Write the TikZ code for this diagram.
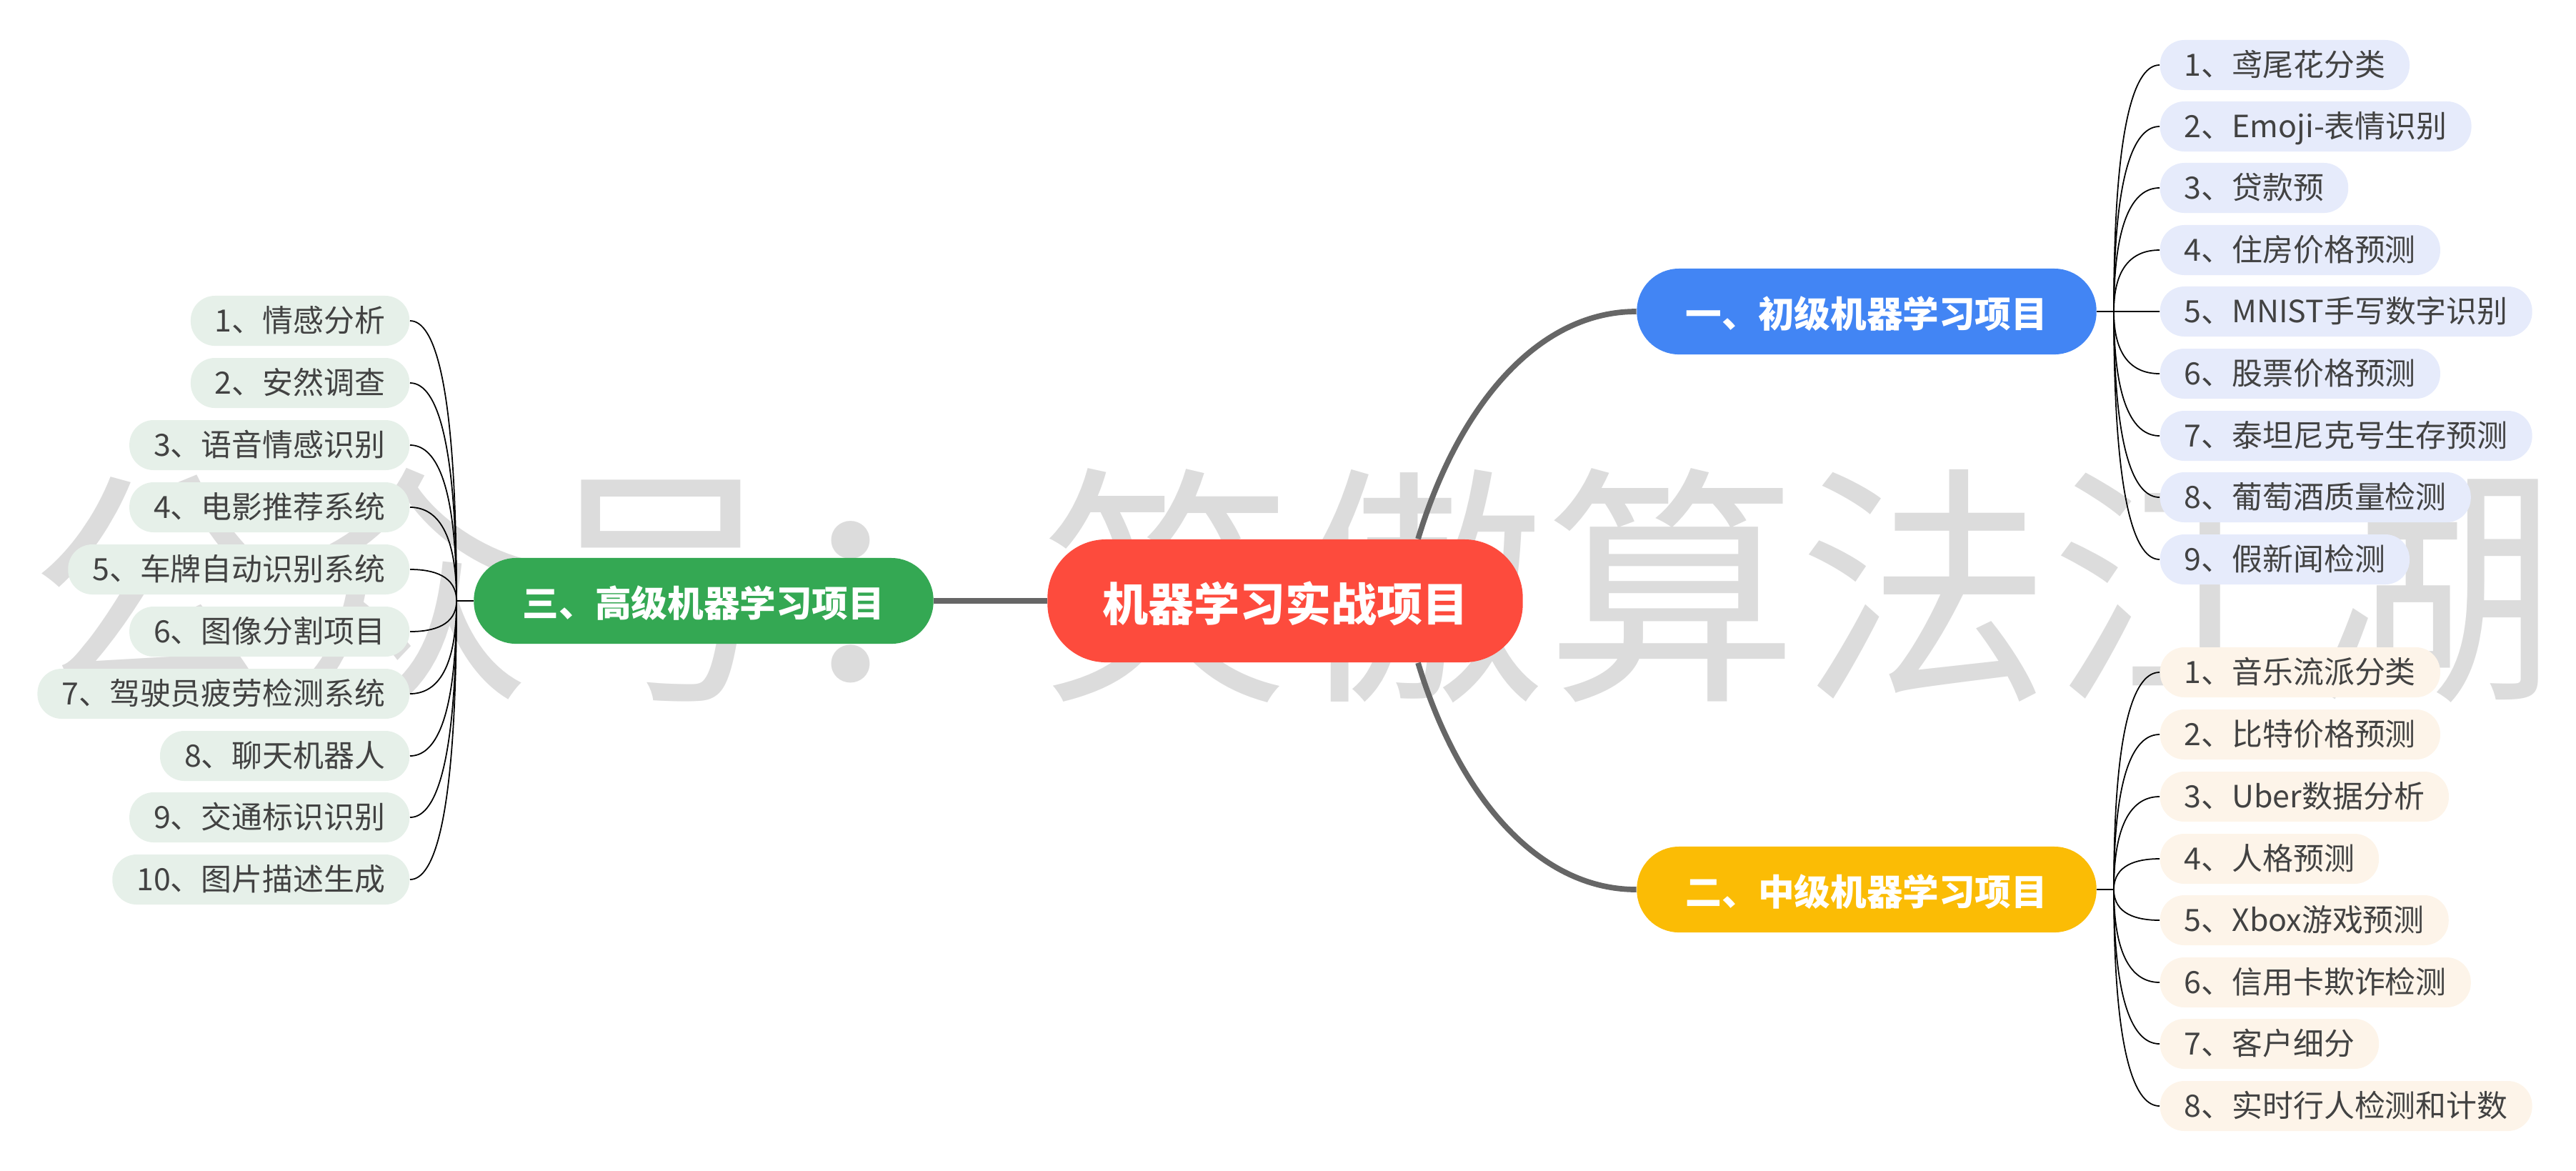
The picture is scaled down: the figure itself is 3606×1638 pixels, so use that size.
\documentclass[tikz,border=0pt]{standalone}
\usepackage{fontspec}
\setmainfont{Noto Sans CJK SC}
\usetikzlibrary{calc}
\definecolor{rootred}{HTML}{FD4B3D}
\definecolor{easyblue}{HTML}{4285F4}
\definecolor{midyellow}{HTML}{FBBC05}
\definecolor{hardgreen}{HTML}{34A853}
\definecolor{easyleaf}{HTML}{E6EBFB}
\definecolor{midleaf}{HTML}{FDF4E9}
\definecolor{hardleaf}{HTML}{E6F0E9}
\definecolor{leaftext}{HTML}{424242}
\definecolor{trunk}{HTML}{666666}
\definecolor{mark}{HTML}{DCDCDC}
\tikzset{
	leaf/.style={rounded corners=0.34cm, minimum height=0.7cm, inner ysep=0pt, inner xsep=0.34cm,
		text=leaftext, text height=10pt, text depth=1.2pt, font=\fontsize{12.2pt}{14pt}\selectfont},
	easy/.style={leaf, fill=easyleaf, anchor=west},
	mid/.style={leaf, fill=midleaf, anchor=west},
	hard/.style={leaf, fill=hardleaf, anchor=east},
	branch/.style={rounded corners=0.59cm, minimum height=1.2cm, minimum width=6.43cm, inner sep=0pt,
		text=white, text height=14pt, text depth=1.3pt, font=\fontsize{14.4pt}{17pt}\selectfont\bfseries},
	thick line/.style={draw=trunk, line width=2.2pt},
	thin line/.style={draw=black, line width=0.5pt, to path={
		.. controls ($(\tikztostart)!0.8!(\tikztostart|-\tikztotarget)$)
		and ($(\tikztotarget)!0.5!(\tikztotarget-|\tikztostart)$) .. (\tikztotarget)}},
}
\begin{document}
\begin{tikzpicture}[x=0.01cm, y=-0.01cm]
	\useasboundingbox (0,0) rectangle (3606,1638);
	\node[anchor=west, inner sep=0pt, text=mark, font=\fontsize{100.6pt}{110pt}\selectfont] (watermark) at (40,820) {公众号：笑傲算法江湖};
	\coordinate (hubeasy) at (2959,436);
	\coordinate (hubmid) at (2959,1245);
	\coordinate (hubhard) at (639,841);

	\node[rounded corners=0.82cm, fill=rootred, minimum width=6.65cm, minimum height=1.72cm, inner sep=0pt,
		text=white, text height=18pt, text depth=1.8pt, font=\fontsize{18.2pt}{21pt}\selectfont\bfseries] (root) at (1799,841) {机器学习实战项目};
	\node[branch, fill=easyblue] (easy) at (2613,436) {一、初级机器学习项目};
	\node[branch, fill=midyellow] (mid) at (2613,1245) {二、中级机器学习项目};
	\node[branch, fill=hardgreen] (hard) at (985,841) {三、高级机器学习项目};

	\node[easy] (easy1) at (3023,91) {1、鸢尾花分类};
	\node[easy] (easy2) at (3023,177) {2、Emoji-表情识别};
	\node[easy] (easy3) at (3023,263) {3、贷款预};
	\node[easy] (easy4) at (3023,350) {4、住房价格预测};
	\node[easy] (easy5) at (3023,436) {5、MNIST手写数字识别};
	\node[easy] (easy6) at (3023,523) {6、股票价格预测};
	\node[easy] (easy7) at (3023,610) {7、泰坦尼克号生存预测};
	\node[easy] (easy8) at (3023,696) {8、葡萄酒质量检测};
	\node[easy] (easy9) at (3023,783) {9、假新闻检测};

	\node[mid] (mid1) at (3023,941) {1、音乐流派分类};
	\node[mid] (mid2) at (3023,1028) {2、比特价格预测};
	\node[mid] (mid3) at (3023,1115) {3、Uber数据分析};
	\node[mid] (mid4) at (3023,1202) {4、人格预测};
	\node[mid] (mid5) at (3023,1288) {5、Xbox游戏预测};
	\node[mid] (mid6) at (3023,1375) {6、信用卡欺诈检测};
	\node[mid] (mid7) at (3023,1461) {7、客户细分};
	\node[mid] (mid8) at (3023,1548) {8、实时行人检测和计数};

	\node[hard] (hard1) at (574,449) {1、情感分析};
	\node[hard] (hard2) at (574,536) {2、安然调查};
	\node[hard] (hard3) at (574,623) {3、语音情感识别};
	\node[hard] (hard4) at (574,710) {4、电影推荐系统};
	\node[hard] (hard5) at (574,797) {5、车牌自动识别系统};
	\node[hard] (hard6) at (574,884) {6、图像分割项目};
	\node[hard] (hard7) at (574,971) {7、驾驶员疲劳检测系统};
	\node[hard] (hard8) at (574,1058) {8、聊天机器人};
	\node[hard] (hard9) at (574,1144) {9、交通标识识别};
	\node[hard] (hard10) at (574,1231) {10、图片描述生成};

	\draw[thick line] (root.west) -- (hard.east);
	\draw[thick line] (root.25.5) .. controls (2040,572) and (2150,436) .. (easy.west);
	\draw[thick line] (root.-25.5) .. controls (2040,1110) and (2150,1245) .. (mid.west);

	\draw[line width=0.5pt] (easy.east) -- (hubeasy);
	\draw[line width=0.5pt] (mid.east) -- (hubmid);
	\draw[line width=0.5pt] (hard.west) -- (hubhard);
	\foreach \n in {1,...,9}
		\draw[thin line] (hubeasy) to (easy\n.west);
	\foreach \n in {1,...,8}
		\draw[thin line] (hubmid) to (mid\n.west);
	\foreach \n in {1,...,10}
		\draw[thin line] (hubhard) to (hard\n.east);
\end{tikzpicture}
\end{document}
